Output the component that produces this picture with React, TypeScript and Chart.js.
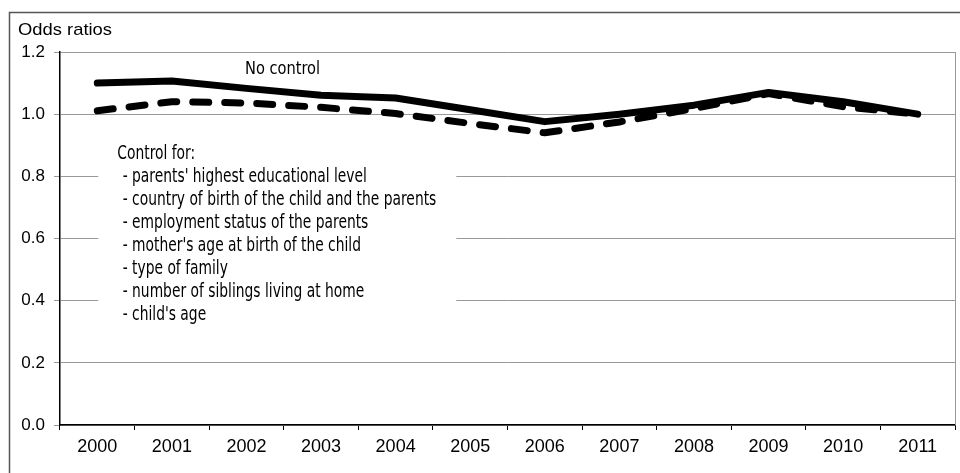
import React, { useEffect, useRef } from "react";
import { Chart, registerables } from "chart.js";

Chart.register(...registerables);

const years = ["2000", "2001", "2002", "2003", "2004", "2005", "2006", "2007", "2008", "2009", "2010", "2011"];
const noControl = [1.10, 1.107, 1.083, 1.061, 1.052, 1.014, 0.976, 1.0, 1.029, 1.07, 1.04, 1.0];
const withControl = [1.011, 1.04, 1.036, 1.022, 1.002, 0.97, 0.94, 0.975, 1.018, 1.066, 1.024, 1.0];
const yTicks = [0, 0.2, 0.4, 0.6, 0.8, 1.0, 1.2];
const yTitle = "Odds ratios";
const lineLabel = "No control";
const noteLines = [
  "Control for:",
  " - parents' highest educational level",
  " - country of birth of the child and the parents",
  " - employment status of the parents",
  " - mother's age at birth of the child",
  " - type of family",
  " - number of siblings living at home",
  " - child's age",
];

const NARROW = "'Liberation Sans Narrow', 'DejaVu Sans Condensed', sans-serif";
const SANS = "'Liberation Sans', Arimo, Arial, sans-serif";

function drawFitted(ctx: CanvasRenderingContext2D, text: string, x: number, y: number, targetW: number | null) {
  if (targetW) {
    const w = ctx.measureText(text).width;
    const s = targetW / w;
    ctx.save();
    ctx.translate(x, y);
    ctx.scale(s, 1);
    ctx.fillText(text, 0, 0);
    ctx.restore();
  } else {
    ctx.fillText(text, x, y);
  }
}

const decorPlugin = {
  id: "decor",
  beforeDraw(chart: any) {
    const ctx = chart.ctx as CanvasRenderingContext2D;
    ctx.save();
    ctx.fillStyle = "#ffffff";
    ctx.fillRect(0, 0, chart.width, chart.height);
    ctx.strokeStyle = "#555555";
    ctx.lineWidth = 1.5;
    ctx.strokeRect(9.5, 12.5, chart.width + 20, chart.height + 20);
    ctx.restore();
  },
  beforeDatasetsDraw(chart: any) {
    const ctx = chart.ctx as CanvasRenderingContext2D;
    const { chartArea, scales } = chart;
    const y = scales.y;
    const x = scales.x;
    ctx.save();
    ctx.strokeStyle = "#999999";
    ctx.lineWidth = 1;
    ctx.beginPath();
    ctx.moveTo(chartArea.right + 0.5, chartArea.top);
    ctx.lineTo(chartArea.right + 0.5, chartArea.bottom);
    ctx.stroke();
    const bx = x.getPixelForValue(0) + 1;
    const top = y.getPixelForValue(0.9) - 2;
    const bottom = y.getPixelForValue(0.3) + 4;
    ctx.fillStyle = "#ffffff";
    ctx.fillRect(bx, top, 358, bottom - top);
    ctx.fillStyle = "#000000";
    ctx.font = "19px " + NARROW;
    ctx.textBaseline = "middle";
    ctx.textAlign = "left";
    const lineH = 23;
    const ref = ctx.measureText(noteLines[2]).width;
    const s = 318 / ref;
    noteLines.forEach((t, i) => {
      const ty = top + 11 + i * lineH;
      const w = ctx.measureText(t).width * s;
      drawFitted(ctx, t, i === 0 ? bx + 19 : bx + 20, ty, w);
    });
    ctx.font = "18px " + NARROW;
    drawFitted(ctx, lineLabel, 245, y.getPixelForValue(1.2) + 17, 75);
    ctx.font = "17px " + SANS;
    drawFitted(ctx, yTitle, 18, 30, 94);
    ctx.restore();
  },
};

export default function App() {
  const ref = useRef<HTMLCanvasElement | null>(null);
  useEffect(() => {
    let chart: any = null;
    let cancelled = false;
    const make = () => {
      if (cancelled || !ref.current) return;
      chart = new Chart(ref.current, {
        type: "line",
        data: {
          labels: years,
          datasets: [
            {
              label: "No control",
              data: noControl,
              borderColor: "#000000",
              borderWidth: 7,
              borderCapStyle: "round",
              borderJoinStyle: "round",
              pointRadius: 0,
              tension: 0,
              fill: false,
            },
            {
              label: "Control",
              data: withControl,
              borderColor: "#000000",
              borderWidth: 7,
              borderDash: [16, 16],
              borderCapStyle: "round",
              borderJoinStyle: "round",
              pointRadius: 0,
              tension: 0,
              fill: false,
            },
          ],
        },
        options: {
          animation: false,
          responsive: false,
          maintainAspectRatio: false,
          layout: { padding: { top: 52, right: 5, left: 0, bottom: 0 } },
          plugins: { legend: { display: false }, tooltip: { enabled: false }, title: { display: false } },
          scales: {
            x: {
              type: "category",
              offset: true,
              grid: { display: true, offset: true, drawOnChartArea: false, drawTicks: true, tickLength: 5, color: "#000000" },
              border: { display: true, color: "#000000", width: 1.5 },
              ticks: { color: "#000000", font: { family: SANS, size: 18 }, padding: 6, maxRotation: 0, autoSkip: false },
              afterFit: (s: any) => { s.height = 48; },
            },
            y: {
              min: 0,
              max: 1.2,
              afterBuildTicks: (s: any) => { s.ticks = yTicks.map((v) => ({ value: v })); },
              grid: { color: "#999999", lineWidth: 1, drawTicks: true, tickLength: 6 },
              border: { display: true, color: "#000000", width: 1.5 },
              ticks: {
                color: "#000000",
                font: { family: SANS, size: 17 },
                padding: 9,
                callback: (v: any) => Number(v).toFixed(1),
              },
              afterFit: (s: any) => { s.width = 60; },
            },
          },
        },
        plugins: [decorPlugin],
      });
    };
    const fontsApi: any = (document as any).fonts;
    if (fontsApi && fontsApi.load) {
      Promise.all([
        fontsApi.load("17px 'Liberation Sans'"),
        fontsApi.load("18px 'Liberation Sans Narrow'"),
        fontsApi.load("18px 'DejaVu Sans Condensed'"),
      ]).catch(() => null).then(make);
    } else {
      make();
    }
    return () => {
      cancelled = true;
      if (chart) chart.destroy();
    };
  }, []);
  return (
    <div style={{ position: "fixed", left: 0, top: 0, width: 960, height: 473, background: "#fff" }}>
      <canvas ref={ref} width={960} height={473} style={{ width: 960, height: 473, display: "block" }} />
    </div>
  );
}
